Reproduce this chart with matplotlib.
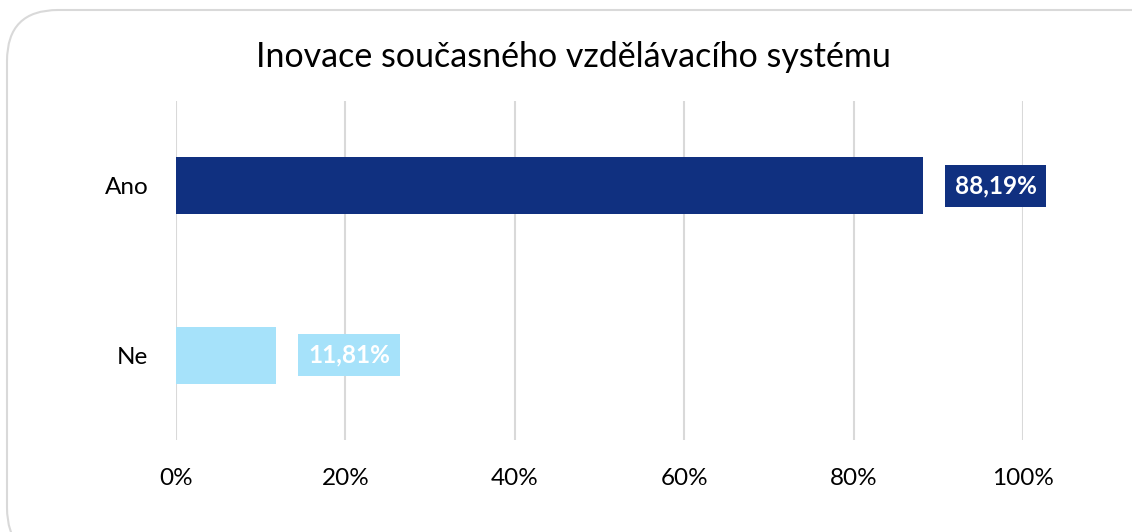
import matplotlib.pyplot as plt
from matplotlib.patches import FancyBboxPatch

plt.rcParams['font.family'] = ['Lato', 'DejaVu Sans']

title = 'Inovace současného vzdělávacího systému'
categories = ['Ano', 'Ne']
values = [88.19, 11.81]
labels = ['88,19%', '11,81%']
colors = ['#103080', '#A6E2FA']
ticks = [0, 20, 40, 60, 80, 100]
tick_labels = ['0%', '20%', '40%', '60%', '80%', '100%']

fig = plt.figure(figsize=(11.32, 5.32), dpi=100)
ax = fig.add_axes([0.1555, 0.1729, 0.7482, 0.6372])

# rounded chart border, clipped at right and bottom like the original
border = FancyBboxPatch((7 / 1132, -0.05), 1.2, 1 - 10 / 532 + 0.05,
                        boxstyle='round,pad=0,rounding_size=0.045',
                        transform=fig.transFigure, fill=False,
                        edgecolor='#d9d9d9', linewidth=1.5,
                        mutation_aspect=1132 / 532)
fig.patches.append(border)

y = list(range(len(categories)))
ax.barh(y, values, height=0.336, color=colors, zorder=2)

for yi, v, lab, c in zip(y, values, labels, colors):
    ax.text(v + 8.6, yi, lab, ha='center', va='center', color='white',
            fontsize=17.5, fontweight='bold', zorder=3,
            bbox=dict(boxstyle='square,pad=0.4', facecolor=c, edgecolor='none'))

ax.set_xlim(0, 100)
ax.set_ylim(1.5, -0.5)
ax.set_yticks(y)
ax.set_yticklabels(categories, fontsize=17.5)
ax.set_xticks(ticks)
ax.set_xticklabels(tick_labels, fontsize=17.5)
ax.tick_params(length=0)
ax.tick_params(axis='x', pad=20)
ax.tick_params(axis='y', pad=20)
ax.grid(axis='x', color='#d9d9d9', linewidth=1.5, zorder=0)
ax.set_axisbelow(True)
for s in ax.spines.values():
    s.set_visible(False)

fig.text(573 / 1132, 1 - 57 / 532, title, ha='center', va='center', fontsize=24.5)

fig.savefig('out.png', dpi=100)
